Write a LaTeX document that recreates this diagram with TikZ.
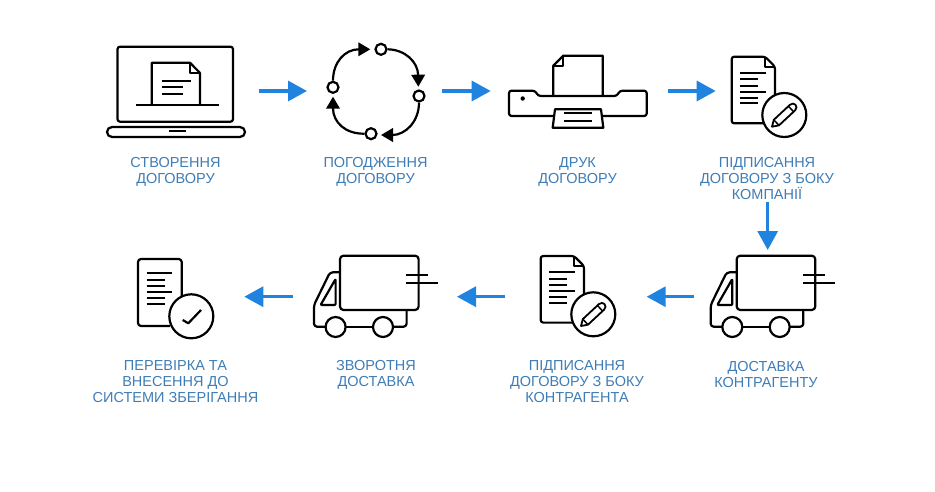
\documentclass[tikz,border=0pt]{standalone}
\usepackage{fontspec}
\setmainfont{Liberation Sans}
\usetikzlibrary{arrows.meta}
\definecolor{flow}{HTML}{2183E0}
\definecolor{cap}{HTML}{3F7DB6}
\tikzset{
  ic/.style={line width=2.2pt,draw=black,line join=round},
  thin ic/.style={line width=2pt,draw=black},
  flowline/.style={line width=3.2pt,draw=flow,-{Triangle[length=19pt,width=20pt,fill=flow]}},
  cyc/.style={line width=2.2pt,draw=black,-{Triangle[length=12pt,width=13.5pt,fill=black]}},
  ring/.style={circle,draw=black,line width=2.2pt,fill=white,minimum size=11pt,inner sep=0pt},
  label/.style={text=cap,align=center,font=\fontsize{14.5}{16}\selectfont,inner sep=0pt,anchor=center},
}
\newcommand{\doclines}{%
  \foreach \yy/\xx in {0/25.7,6.6/18.3,13/18.3,19/25.7,25/18.3,30.6/18.3}
    \draw[thin ic] (0,\yy) -- (\xx,\yy);
}
\newcommand{\pencilicon}{%
  \draw[ic,line width=1.8pt] (0,0) -- (6,-3.8) -- (28,-3.8) .. controls (33.5,-3.8) and (33.5,3.8) .. (28,3.8) -- (6,3.8) -- cycle;
  \draw[ic,line width=1.5pt] (6,-3.8) -- (6,3.8);
  \draw[ic,line width=1.5pt] (26,-3.8) -- (26,3.8);
}
\newcommand{\signdoc}[2]{%
  \begin{scope}[shift={(#1,#2)}]
    \draw[ic,rounded corners=2.5pt] (775,110) -- (775,66.7) -- (765,56.7) -- (731.7,56.7) -- (731.7,123.3) -- (765,123.3);
    \draw[ic] (765,56.7) -- (765,66.7) -- (775,66.7);
    \begin{scope}[shift={(740,72.7)}]\doclines\end{scope}
    \draw[ic,fill=white] (784.3,115) circle (22);
    \begin{scope}[shift={(772,126.7)},rotate=43]\pencilicon\end{scope}
  \end{scope}
}
\newcommand{\truck}[2]{%
  \begin{scope}[shift={(#1,#2)}]
    \draw[ic,rounded corners=3pt] (736.7,272.3) -- (726.7,272.3) -- (710.7,305) -- (710.7,326.7) -- (722.7,326.7);
    \draw[ic] (741.7,326.7) -- (770,326.7);
    \draw[ic,rounded corners=3pt] (789.3,326.7) -- (803.3,326.7) -- (803.3,310);
    \draw[ic] (732.3,327) circle (10);
    \draw[ic] (779.7,327) circle (10);
    \draw[ic,rounded corners=1pt] (732.3,279) -- (717.3,305) -- (732.3,305) -- cycle;
    \draw[ic,rounded corners=3.5pt] (736.7,255.7) rectangle (815.3,310);
    \draw[ic] (802.7,275) -- (825,275);
    \draw[ic] (802.7,282.7) -- (835,282.7);
  \end{scope}
}
\begin{document}
\begin{tikzpicture}[x=1pt,y=-1pt]
\useasboundingbox (0,0) rectangle (935,492);
\fill[white] (0,0) rectangle (935,492);

% laptop
\draw[ic,rounded corners=2.5pt] (117.5,46.7) rectangle (233,121.7);
\draw[ic,rounded corners=5pt] (107,127) -- (245,127) -- (245,137) -- (107,137) -- cycle;
\draw[thin ic] (169,131.5) -- (186,131.5);
\draw[ic,rounded corners=0.5pt] (151.7,105) -- (151.7,62.7) -- (190,62.7) -- (200,73) -- (200,105);
\draw[ic] (190,62.7) -- (190,73) -- (200,73);
\draw[thin ic] (136,105) -- (219,105);
\draw[thin ic] (161.7,80.7) -- (190.7,80.7);
\draw[thin ic] (161.7,87.3) -- (182.7,87.3);
\draw[thin ic] (161.7,94) -- (182.7,94);

% cycle
\node[ring] (ctop) at (381,49.3) {};
\node[ring] (cright) at (419,96) {};
\node[ring] (cbot) at (371,133.7) {};
\node[ring] (cleft) at (333,87.3) {};
\draw[cyc] (ctop.east) .. controls (405,49.5) and (418,62) .. (418.3,86.7);
\draw[cyc] (cright.south) .. controls (419,122) and (405,135) .. (381,135);
\draw[cyc] (cbot.west) .. controls (345,134) and (333,122) .. (333,96.7);
\draw[cyc] (cleft.north) .. controls (333,62) and (345,49.3) .. (370.3,49.3);

% printer
\draw[ic] (553.3,96) -- (553.3,65.7) -- (563.3,55.7) -- (602.7,55.7) -- (602.7,96);
\draw[ic] (563.3,55.7) -- (563.3,65.7) -- (553.3,65.7);
\draw[ic,rounded corners=2.5pt] (509,90.7) -- (535,90.7) -- (538.3,96) -- (616.7,96) -- (620,90.7) -- (646.7,90.7) -- (646.7,116) -- (509,116) -- cycle;
\fill (522.7,98.5) circle (2.2);
\draw[ic,fill=white] (555,109.3) -- (601,109.3) -- (603.3,127.7) -- (552.7,127.7) -- cycle;
\draw[thin ic] (564,113.5) -- (591.7,113.5);
\draw[thin ic] (564,120.7) -- (591.7,120.7);

\signdoc{0}{0}
\truck{0}{0}
\signdoc{-191}{199.3}
\truck{-396.7}{0}

% checked document
\draw[ic,rounded corners=3pt] (181.7,300) -- (181.7,259) -- (138,259) -- (138,326) -- (170,326);
\begin{scope}[shift={(146.7,273)}]\doclines\end{scope}
\draw[ic,fill=white] (191.3,316.3) circle (22);
\draw[ic] (182.7,320) -- (188.3,323.3) -- (201,310);

% flow arrows
\foreach \n/\sx/\sy/\ex/\ey in {a/259/91/307/91,b/442/91/490.7/91,c/667.7/91/715.7/91,d/767.7/202/767.7/250,e/694.3/296.7/646.7/296.7,f/505/296.7/457/296.7,g/292.7/296.7/244.3/296.7}{
  \coordinate (\n s) at (\sx,\sy);
  \coordinate (\n e) at (\ex,\ey);
  \draw[flowline] (\n s) -- (\n e);
}

% captions
\node[label] (t1) at (175.5,171.7) {СТВОРЕННЯ\\ДОГОВОРУ};
\node[label] (t2) at (375.5,171.7) {ПОГОДЖЕННЯ\\ДОГОВОРУ};
\node[label] (t3) at (577.5,171.7) {ДРУК\\ДОГОВОРУ};
\node[label] (t4) at (767,179) {ПІДПИСАННЯ\\ДОГОВОРУ З БОКУ\\КОМПАНІЇ};
\node[label] (t5) at (766,374.7) {ДОСТАВКА\\КОНТРАГЕНТУ};
\node[label] (t6) at (577,382) {ПІДПИСАННЯ\\ДОГОВОРУ З БОКУ\\КОНТРАГЕНТА};
\node[label] (t7) at (376,374.7) {ЗВОРОТНЯ\\ДОСТАВКА};
\node[label] (t8) at (175.5,382) {ПЕРЕВІРКА ТА\\ВНЕСЕННЯ ДО\\СИСТЕМИ ЗБЕРІГАННЯ};
\end{tikzpicture}
\end{document}
